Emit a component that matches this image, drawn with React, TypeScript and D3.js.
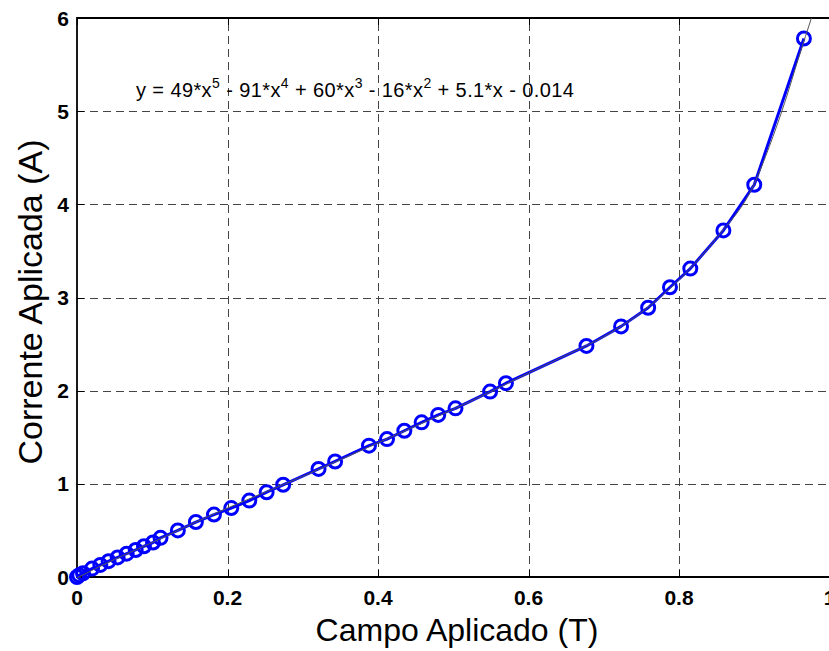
import React, { useEffect, useRef } from "react";
import * as d3 from "d3";

// measured points (Campo Aplicado T, Corrente Aplicada A)
const campo = [
  0, 0.003, 0.008, 0.02, 0.031, 0.042, 0.054, 0.066, 0.078, 0.089, 0.101, 0.111,
  0.134, 0.158, 0.182, 0.205, 0.229, 0.252, 0.274, 0.321, 0.343, 0.388, 0.412,
  0.435, 0.458, 0.48, 0.503, 0.549, 0.57, 0.677, 0.723, 0.759, 0.788, 0.815,
  0.859, 0.9, 0.966,
];
const corrente = [
  0, 0.02, 0.04, 0.09, 0.13, 0.17, 0.21, 0.25, 0.29, 0.33, 0.37, 0.42, 0.5, 0.59,
  0.67, 0.74, 0.82, 0.91, 0.99, 1.16, 1.24, 1.41, 1.48, 1.57, 1.66, 1.74, 1.81,
  1.99, 2.08, 2.48, 2.69, 2.89, 3.11, 3.31, 3.72, 4.21, 5.78,
];

// polynomial fit curve
const fitX = [
  0, 0.05, 0.1, 0.15, 0.2, 0.25, 0.3, 0.35, 0.4, 0.45, 0.5, 0.55, 0.6, 0.65, 0.7,
  0.75, 0.8, 0.85, 0.9, 0.92, 0.94, 0.96, 0.976,
];
const fitY = [
  -0.01, 0.19, 0.37, 0.56, 0.74, 0.91, 1.08, 1.26, 1.44, 1.62, 1.8, 1.99, 2.19,
  2.38, 2.58, 2.84, 3.19, 3.64, 4.22, 4.62, 5.08, 5.6, 6.0,
];

const xTicks = [0, 0.2, 0.4, 0.6, 0.8, 1];
const yTicks = [0, 1, 2, 3, 4, 5, 6];

// equation text: [normal, superscript] pairs
const eqParts: [string, string][] = [
  ["y = 49*x", "5"],
  [" - 91*x", "4"],
  [" + 60*x", "3"],
  [" - 16*x", "2"],
  [" + 5.1*x - 0.014", ""],
];

const W = 829;
const H = 651;

export default function App() {
  const svgRef = useRef<SVGSVGElement | null>(null);

  useEffect(() => {
    const marginLeft = 77;
    const marginTop = 18;
    const bottom = 577;
    const right = 829.5;

    const x = d3.scaleLinear().domain([0, 1]).range([marginLeft, right]);
    const y = d3.scaleLinear().domain([0, 6]).range([bottom, marginTop]);

    const svg = d3.select(svgRef.current);
    svg.selectAll("*").remove();

    svg.append("rect").attr("width", W).attr("height", H).attr("fill", "#fff");

    // grid
    const grid = svg.append("g").attr("stroke", "#444").attr("stroke-width", 1)
      .attr("stroke-dasharray", "8,5");
    xTicks.slice(1, -1).forEach((t) => {
      grid.append("line")
        .attr("x1", Math.round(x(t)) + 0.5).attr("x2", Math.round(x(t)) + 0.5)
        .attr("y1", bottom).attr("y2", marginTop);
    });
    yTicks.slice(1, -1).forEach((t) => {
      grid.append("line")
        .attr("x1", marginLeft).attr("x2", W)
        .attr("y1", Math.round(y(t)) + 0.5).attr("y2", Math.round(y(t)) + 0.5);
    });

    // tick marks
    const ticks = svg.append("g").attr("stroke", "#000").attr("stroke-width", 1);
    xTicks.forEach((t) => {
      const px = Math.round(x(t)) + 0.5;
      ticks.append("line").attr("x1", px).attr("x2", px).attr("y1", bottom).attr("y2", bottom - 7);
      ticks.append("line").attr("x1", px).attr("x2", px).attr("y1", marginTop).attr("y2", marginTop + 7);
    });
    yTicks.forEach((t) => {
      const py = Math.round(y(t)) + 0.5;
      ticks.append("line").attr("x1", marginLeft).attr("x2", marginLeft + 7).attr("y1", py).attr("y2", py);
    });

    // axes box
    svg.append("path")
      .attr("d", `M${W},${marginTop}H${marginLeft}V${bottom}H${W}`)
      .attr("fill", "none").attr("stroke", "#000").attr("stroke-width", 1.8);

    // data line + markers
    const pts = campo.map((c, i) => [c, corrente[i]] as [number, number]);
    const line = d3.line<[number, number]>().x((d) => x(d[0])).y((d) => y(d[1]));
    svg.append("path").datum(pts).attr("d", line)
      .attr("fill", "none").attr("stroke", "#0000ff").attr("stroke-width", 3)
      .attr("stroke-linejoin", "round");
    svg.append("g").selectAll("circle").data(pts).join("circle")
      .attr("cx", (d) => x(d[0])).attr("cy", (d) => y(d[1])).attr("r", 6.5)
      .attr("fill", "none").attr("stroke", "#0000ff").attr("stroke-width", 3);

    // fit curve
    const fitPts = fitX.map((f, i) => [f, fitY[i]] as [number, number]);
    const fitLine = d3.line<[number, number]>()
      .x((d) => x(d[0])).y((d) => y(d[1])).curve(d3.curveMonotoneX);
    svg.append("path").datum(fitPts).attr("d", fitLine)
      .attr("fill", "none").attr("stroke", "#555").attr("stroke-width", 1);

    // tick labels
    const font = "'Liberation Sans', Arial, Helvetica, sans-serif";
    svg.append("g").selectAll("text").data(xTicks).join("text")
      .attr("x", (d) => x(d)).attr("y", 605)
      .attr("text-anchor", "middle").attr("font-family", font)
      .attr("font-weight", "bold").attr("font-size", 21).attr("fill", "#000")
      .text((d) => String(d));
    svg.append("g").selectAll("text").data(yTicks).join("text")
      .attr("x", 69).attr("y", (d) => y(d) + 7.5)
      .attr("text-anchor", "end").attr("font-family", font)
      .attr("font-weight", "bold").attr("font-size", 21).attr("fill", "#000")
      .text((d) => String(d));

    // axis labels
    svg.append("text")
      .attr("x", 457).attr("y", 641)
      .attr("text-anchor", "middle").attr("font-family", font)
      .attr("font-size", 32).attr("fill", "#000")
      .text("Campo Aplicado (T)");
    svg.append("text")
      .attr("transform", `translate(42,302) rotate(-90)`)
      .attr("text-anchor", "middle").attr("font-family", font)
      .attr("font-size", 34).attr("fill", "#000")
      .text("Corrente Aplicada (A)");

    // equation
    const eq = svg.append("text").attr("x", 136).attr("y", 97)
      .attr("font-family", font).attr("font-size", 20).attr("fill", "#000")
      .attr("letter-spacing", 0.4);
    let lift = 0;
    eqParts.forEach(([s, sup]) => {
      eq.append("tspan").attr("dy", lift).text(s);
      lift = 0;
      if (sup) {
        eq.append("tspan").attr("font-size", 14).attr("dy", -9).text(sup);
        lift = 9;
      }
    });
  }, []);

  return (
    <svg
      ref={svgRef}
      width={W}
      height={H}
      style={{ position: "absolute", left: 0, top: 0, display: "block" }}
    />
  );
}
